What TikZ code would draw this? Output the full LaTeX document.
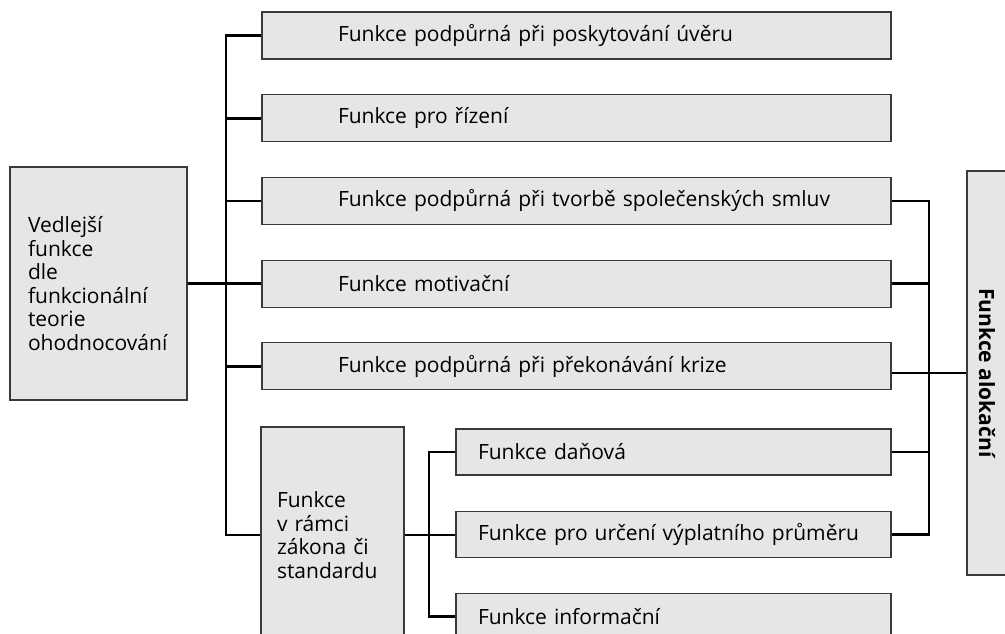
\documentclass[tikz,border=0pt]{standalone}
\usepackage{fontspec}
\setmainfont{Open Sans}
\usetikzlibrary{positioning}
\definecolor{boxgray}{HTML}{E6E6E6}
\definecolor{boxedge}{HTML}{3A3A3A}
\tikzset{
	box1/.style={
		rectangle,
		sharp corners,
		fill=boxgray,
		draw=boxedge, line width=1.2pt,
		text width=629pt,
		inner xsep=0pt,
		minimum height=47pt,
		align=left,
		font=\fontsize{21pt}{23.5pt}\selectfont,
		execute at begin node={\hspace*{76pt}}},
	box2/.style={
		rectangle,
		sharp corners,
		fill=boxgray,
		draw=boxedge, line width=1.2pt,
		text width=435pt,
		inner xsep=0pt,
		minimum height=46pt,
		align=left,
		font=\fontsize{21pt}{23.5pt}\selectfont,
		execute at begin node={\hspace*{22pt}}},
	box3/.style={
		rectangle,
		sharp corners,
		fill=boxgray,
		draw=boxedge, line width=1.2pt,
		align=left,
		font=\fontsize{21pt}{23.5pt}\selectfont},
	conn/.style={draw=black, line width=2.6pt}
}
\begin{document}
\begin{tikzpicture}[x=1pt, y=-1pt]
\useasboundingbox (0,0) rectangle (1005,633);
\clip (0,0) rectangle (1005,633);
\node[box3, text width=141pt, inner xsep=18pt, minimum height=233pt] (vedl) at (98.5,283.5)
	{Vedlejší\\funkce\\dle\\funkcionální\\teorie\\ohodnocování};
\node[box1] (fce1) at (576.5,35.5) {Funkce podpůrná při poskytování úvěru};
\node[box1, below=34.5pt of fce1] (fce2) {Funkce pro řízení};
\node[box1, below=34.5pt of fce2] (fce3) {Funkce podpůrná při tvorbě společenských smluv};
\node[box1, below=34.5pt of fce3] (fce4) {Funkce motivační};
\node[box1, below=34.5pt of fce4] (fce5) {Funkce podpůrná při překonávání krize};
\node[box3, text width=111pt, inner xsep=16pt, minimum height=216pt] (ramci) at (332.5,535)
	{Funkce\\v rámci\\zákona či\\standardu};
\node[box2] (dan) at (673.5,452) {Funkce daňová};
\node[box2, below=35pt of dan] (vypl) {Funkce pro určení výplatního průměru};
\node[box2, below=35pt of vypl] (info) {Funkce informační};
\node[box3, rotate=-90, minimum width=404pt, minimum height=40pt, align=center,
	font=\fontsize{21pt}{23.5pt}\selectfont\bfseries] (aloc) at (987,373) {Funkce alokační};
\coordinate (busL) at (226,0);
\coordinate (busR) at (929,0);
\coordinate (busS) at (429,0);
% levá sběrnice
\draw[conn] (fce1.west) -| (busL |- ramci.west) -- (ramci.west);
\foreach \n in {fce2,fce3,fce5}
	\draw[conn] (\n.west) -- (\n.west -| busL);
\draw[conn] (vedl.east) -- (vedl.east -| fce4.west);
% pravá sběrnice
\draw[conn] (fce3.east) -| (busR |- vypl.east) -- (vypl.east);
\foreach \n in {fce4,dan}
	\draw[conn] (\n.east) -- (\n.east -| busR);
\draw[conn] (aloc.south) -- (aloc.south -| fce5.east);
% funkce v rámci zákona
\draw[conn] (dan.west) -| (busS |- info.west) -- (info.west);
\draw[conn] (ramci.east) -- (ramci.east -| vypl.west);
\end{tikzpicture}
\end{document}
